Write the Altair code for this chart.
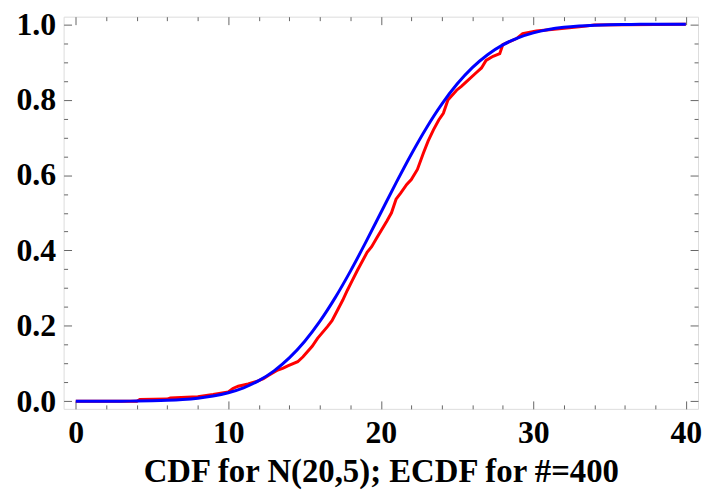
import altair as alt
import pandas as pd

# Theoretical CDF of N(20,5)
cdf_x = list(range(0, 41))
cdf_y = [0.00003, 0.00007, 0.00016, 0.00034, 0.00069, 0.00135, 0.00256, 0.00466,
         0.0082, 0.0139, 0.0228, 0.0359, 0.0548, 0.0808, 0.1151, 0.1587, 0.2119,
         0.2743, 0.3446, 0.4207, 0.5, 0.5793, 0.6554, 0.7257, 0.7881, 0.8413,
         0.8849, 0.9192, 0.9452, 0.9641, 0.9772, 0.9861, 0.9918, 0.9953, 0.9974,
         0.9987, 0.9993, 0.9997, 0.9998, 0.9999, 1.0]

ecdf_x = [0, 4.0, 4.2, 6.0, 6.2, 8.0, 9.0, 10.0, 10.3, 10.65, 11.3, 11.95, 12.3,
          12.6, 13.24, 13.6, 13.9, 14.55, 14.9, 15.2, 15.5, 15.85, 16.5, 16.8,
          17.15, 17.5, 17.8, 18.1, 18.46, 19.1, 19.4, 19.76, 20.4, 20.7, 21.0,
          21.3, 21.7, 22.0, 22.4, 22.8, 23.1, 23.45, 23.8, 24.1, 24.4, 24.97,
          25.3, 25.6, 26.27, 26.6, 26.9, 27.36, 27.8, 28.0, 28.9, 29.3, 30.2,
          31.7, 33.0, 34.0, 40]
ecdf_y = [0, 0, 0.005, 0.006, 0.009, 0.012, 0.018, 0.025, 0.034, 0.040, 0.046,
          0.054, 0.060, 0.068, 0.083, 0.088, 0.094, 0.105, 0.118, 0.132, 0.146,
          0.167, 0.198, 0.214, 0.241, 0.268, 0.294, 0.318, 0.347, 0.395, 0.410,
          0.435, 0.478, 0.500, 0.536, 0.552, 0.575, 0.588, 0.615, 0.659, 0.690,
          0.72, 0.746, 0.764, 0.799, 0.825, 0.836, 0.847, 0.872, 0.884, 0.904,
          0.915, 0.922, 0.946, 0.962, 0.975, 0.982, 0.988, 0.993, 0.998, 1.0]

x_labels = [0, 10, 20, 30, 40]
y_labels = [0.0, 0.2, 0.4, 0.6, 0.8, 1.0]
x_ticks = [0, 2, 4, 6, 8, 10, 12, 14, 16, 18, 20, 22, 24, 26, 28, 30, 32, 34, 36, 38, 40]
y_ticks = [0.0, 0.05, 0.1, 0.15, 0.2, 0.25, 0.3, 0.35, 0.4, 0.45, 0.5, 0.55, 0.6,
           0.65, 0.7, 0.75, 0.8, 0.85, 0.9, 0.95, 1.0]

title = "CDF for N(20,5); ECDF for #=400"

W, H = 639, 395
FONT = "Liberation Serif"
GRAY = "#666666"

cdf = pd.DataFrame({"x": cdf_x, "y": cdf_y})
ecdf = pd.DataFrame({"x": ecdf_x, "y": ecdf_y})

xs = alt.Scale(domain=[-0.8, 40.8], nice=False, zero=False)
ys = alt.Scale(domain=[-0.02, 1.02], nice=False, zero=False)

x_major = "datum.value % 10 === 0"
y_major = "abs(datum.value*5 - round(datum.value*5)) < 0.001"


def tick_axis(orient, offset, values, test):
    return alt.Axis(orient=orient, offset=offset, values=values, labels=False,
                    domain=False, grid=False, ticks=True, tickColor=GRAY,
                    tickWidth=1,
                    tickSize={"condition": {"test": test, "value": 8}, "value": 4},
                    title=None)


red = alt.Chart(ecdf).mark_line(color="#ff0000", strokeWidth=3).encode(
    x=alt.X("x:Q", scale=xs,
            axis=alt.Axis(orient="bottom", values=x_labels, ticks=False, tickSize=0,
                          domain=False, grid=False, labelPadding=9,
                          labelFont=FONT, labelFontSize=32, labelFontWeight="bold",
                          labelColor="black", title=title, titleFont=FONT,
                          titleFontSize=33, titleFontWeight="bold",
                          titleColor="black", titlePadding=7)),
    y=alt.Y("y:Q", scale=ys,
            axis=alt.Axis(orient="left", values=y_labels, ticks=False, tickSize=0,
                          domain=False, grid=False, labelPadding=8, format=".1f",
                          labelFont=FONT, labelFontSize=32, labelFontWeight="bold",
                          labelColor="black", title=None)),
)

blue = alt.Chart(cdf).mark_line(color="#0000ff", strokeWidth=3,
                                interpolate="monotone").encode(
    x=alt.X("x:Q", scale=xs, axis=tick_axis("top", -H, x_ticks, x_major)),
    y=alt.Y("y:Q", scale=ys, axis=tick_axis("right", -W, y_ticks, y_major)),
)

ghost = alt.Chart(cdf).mark_line(opacity=0).encode(
    x=alt.X("x:Q", scale=xs, axis=tick_axis("bottom", -H, x_ticks, x_major)),
    y=alt.Y("y:Q", scale=ys, axis=tick_axis("left", -W, y_ticks, y_major)),
)

chart = alt.layer(red, blue, ghost).resolve_axis(
    x="independent", y="independent"
).properties(
    width=W, height=H,
    autosize=alt.AutoSizeParams(type="none"),
    padding={"left": 56, "top": 7, "right": 4, "bottom": 84},
).configure_view(
    stroke=GRAY, strokeWidth=1.3
).configure(background="white")

chart.save("out.html", embed_options={"renderer": "svg", "actions": False})
